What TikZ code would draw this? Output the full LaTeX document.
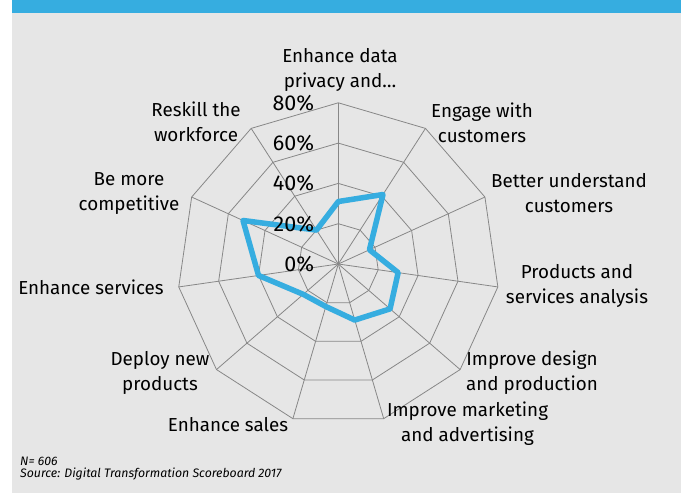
\documentclass[tikz,border=0pt]{standalone}
\usepackage{fontspec}
\setmainfont{Fira Sans}
\usetikzlibrary{positioning}
\definecolor{ecblue}{RGB}{54,173,224}
\definecolor{panelgray}{RGB}{230,230,230}
\definecolor{gridgray}{RGB}{135,135,135}
\tikzstyle{grid} = [gridgray, line width=0.8pt]
\tikzstyle{series} = [ecblue, line width=5.5pt, line join=round]
\tikzstyle{cat} = [align=center, font=\fontsize{18.8}{25}\selectfont, inner sep=0pt]
\tikzstyle{pct} = [anchor=east, font=\fontsize{21.5}{21.5}\selectfont, inner sep=0pt]
\tikzstyle{note} = [anchor=west, font=\fontsize{12.3}{13}\selectfont\itshape, inner sep=0pt]

\begin{document}
\begin{tikzpicture}[x=1pt,y=1pt]
\useasboundingbox (0,0) rectangle (684,493);
\fill[panelgray] (12,0) rectangle (681,493);
\fill[ecblue] (12,480) rectangle (681,493);

\begin{scope}[shift={(338.3,229)}]
% rings and spokes
\foreach \r in {40.3,80.6,120.9,161.2}
  \draw[grid] (90:\r) \foreach \k in {1,...,10} { -- ({90-\k*360/11}:\r) } -- cycle;
\foreach \k in {0,...,10}
  \draw[grid] (0,0) -- ({90-\k*360/11}:161.2);

% data
\foreach \v [count=\k from 0] in {31,41,17,30,34,29,22,23,40,52,20}
  \coordinate (p\k) at ({90-\k*360/11}:{\v*2.015});
\draw[series] (p0) -- (p1) -- (p2) -- (p3) -- (p4) -- (p5) -- (p6) -- (p7) -- (p8) -- (p9) -- (p10) -- cycle;

% scale
\foreach \p [count=\i from 0] in {0,20,40,60,80}
  \node[pct] (pct\p) at (-24,\i*40.3) {\p\%};
\end{scope}

% categories
\node[cat] (privacy)  at (340,423.5) {Enhance data\\privacy and…};
\node[cat] (engage)   at (482,370.5) {Engage with\\customers};
\node[cat] (understand) at (569,299.5) {Better understand\\customers};
\node[cat] (analysis) at (577,207) {Products and\\services analysis};
\node[cat] (design)   at (532,120) {Improve design\\and production};
\node[cat] (marketing) at (467.5,69.5) {Improve marketing\\and advertising};
\node[cat] (sales)    at (228,68) {Enhance sales};
\node[cat] (deploy)   at (160,120) {Deploy new\\products};
\node[cat] (services) at (91,205.7) {Enhance services};
\node[cat] (compete)  at (129,299.5) {Be more\\competitive};
\node[cat] (reskill)  at (196,371) {Reskill the\\workforce};

% footnote
\node[note] (n) at (20,31.3) {N= 606};
\node[note] (src) at (20,18.7) {Source: Digital Transformation Scoreboard 2017};
\end{tikzpicture}
\end{document}
